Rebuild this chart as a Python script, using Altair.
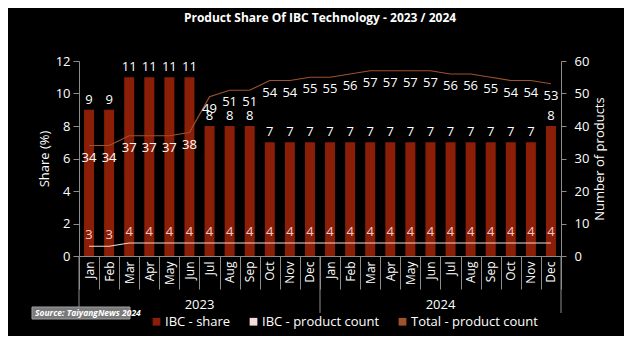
import altair as alt
import pandas as pd

months = ["Jan", "Feb", "Mar", "Apr", "May", "Jun", "Jul", "Aug", "Sep", "Oct", "Nov", "Dec"]
years = ["2023", "2024"]
ibc_share = [9, 9, 11, 11, 11, 11, 8, 8, 8, 7, 7, 7,
             7, 7, 7, 7, 7, 7, 7, 7, 7, 7, 7, 8]
ibc_count = [3, 3, 4, 4, 4, 4, 4, 4, 4, 4, 4, 4,
             4, 4, 4, 4, 4, 4, 4, 4, 4, 4, 4, 4]
total_count = [34, 34, 37, 37, 37, 38, 49, 51, 51, 54, 54, 55,
               55, 56, 57, 57, 57, 57, 56, 56, 55, 54, 54, 53]
series_names = ["IBC - share", "IBC - product count", "Total - product count"]
series_colors = ["#8b1e06", "#f3dcdc", "#a0522d"]
title_text = "Product Share Of IBC Technology - 2023 / 2024"
source_text = "Source: TaiyangNews 2024"

rows = []
for yi, yr in enumerate(years):
    for mi, m in enumerate(months):
        i = yi * 12 + mi
        rows.append(dict(key=f"{yr}-{m}", month=m, year=yr,
                         share=ibc_share[i], ibc=ibc_count[i], total=total_count[i]))
df = pd.DataFrame(rows)
order = list(df["key"])

W, H = 482, 195
FONT = "Open Sans"

xscale = alt.Scale(domain=order, paddingInner=0, paddingOuter=0)
xaxis = alt.Axis(title=None, labelExpr="split(datum.value, '-')[1]",
                 labelAngle=270, tickBand="extent", tickSize=33,
                 labelPadding=-28, labelFontSize=12, labelColor="white",
                 domainColor="#8c8c8c", tickColor="#8c8c8c")


def xenc(band=None):
    if band is None:
        return alt.X("key:N", sort=order, scale=xscale, axis=xaxis)
    return alt.X("key:N", sort=order, scale=xscale, axis=xaxis, bandPosition=band)


yl_scale = alt.Scale(domain=[0, 12])
yl_axis = alt.Axis(title="Share (%)", values=list(range(0, 13, 2)), grid=False,
                   titlePadding=4, tickSize=6, labelPadding=3)
yr_scale = alt.Scale(domain=[0, 60])
yr_axis = alt.Axis(title="Number of products", orient="right", values=list(range(0, 61, 10)),
                   grid=False, titlePadding=5, tickSize=5, labelPadding=8, titleAngle=270,
                   titleBaseline="top")

color_enc = alt.Color("series:N",
                      scale=alt.Scale(domain=series_names, range=series_colors),
                      legend=alt.Legend(title=None, orient="none", direction="horizontal",
                                        legendX=71, legendY=254, symbolType="square",
                                        symbolSize=60, labelFontSize=13, labelColor="white",
                                        labelFont=FONT, columnPadding=16, labelOffset=2,
                                        symbolStrokeWidth=0))

base = alt.Chart(df)

bars = base.transform_calculate(series="'IBC - share'").mark_bar(size=10).encode(
    x=xenc(), y=alt.Y("share:Q", scale=yl_scale, axis=yl_axis), color=color_enc,
)
bar_text = base.mark_text(dy=-10, fontSize=13, color="white", font=FONT).encode(
    x=xenc(), y=alt.Y("share:Q", scale=yl_scale, axis=yl_axis), text="share:Q",
)
left = alt.layer(bars, bar_text)

total_line = base.transform_calculate(series="'Total - product count'").mark_line(strokeWidth=1.2).encode(
    x=xenc(), y=alt.Y("total:Q", scale=yr_scale, axis=yr_axis), color=color_enc,
)
total_text = base.mark_text(dy=12, fontSize=13, color="white", font=FONT).encode(
    x=xenc(), y=alt.Y("total:Q", scale=yr_scale, axis=yr_axis), text="total:Q",
)
ibc_line = base.transform_calculate(series="'IBC - product count'").mark_line(strokeWidth=1.2).encode(
    x=xenc(), y=alt.Y("ibc:Q", scale=yr_scale, axis=yr_axis), color=color_enc,
)
ibc_text = base.mark_text(dy=-11, fontSize=13, color="#f6c9c9", font=FONT).encode(
    x=xenc(), y=alt.Y("ibc:Q", scale=yr_scale, axis=yr_axis), text="ibc:Q",
)
right = alt.layer(total_line, total_text, ibc_line, ibc_text)

year_df = pd.DataFrame({"year": years, "key": ["2023-Jul", "2024-Jul"]})
year_text = alt.Chart(year_df).mark_text(fontSize=13, color="white", font=FONT).encode(
    x=xenc(0), y=alt.value(H + 49), text="year:N",
)
sep_df = pd.DataFrame({"key": ["2023-Jan", "2024-Jan"]})
seps = alt.Chart(sep_df).mark_rule(color="#8c8c8c").encode(
    x=xenc(0), y=alt.value(H), y2=alt.value(H + 57),
)
sep_end = alt.Chart(pd.DataFrame({"key": ["2024-Dec"]})).mark_rule(color="#8c8c8c").encode(
    x=xenc(1), y=alt.value(H), y2=alt.value(H + 57),
)
src_df = pd.DataFrame({"t": [source_text]})
src_box = alt.Chart(src_df).mark_rect(color="#7a7a7a", stroke="#a0a0a0", strokeWidth=1).encode(
    x=alt.value(-47), x2=alt.value(51), y=alt.value(246), y2=alt.value(258),
)
src_text = alt.Chart(src_df).mark_text(align="left", baseline="middle", fontSize=8.5,
                                       fontStyle="italic", fontWeight="bold", color="white",
                                       font=FONT).encode(
    x=alt.value(-44), y=alt.value(252), text="t:N",
)

chart = alt.layer(left, right, year_text, seps, sep_end, src_box, src_text).resolve_scale(
    y="independent"
).properties(
    width=W, height=H,
    title=alt.TitleParams(title_text, fontSize=12, fontWeight="bold", color="white",
                          font=FONT, anchor="middle", frame="group", offset=30),
    autosize=alt.AutoSizeParams(type="none"),
    padding={"left": 71, "top": 53, "right": 63, "bottom": 80},
).configure(
    background="black",
).configure_view(
    stroke=None,
).configure_axis(
    labelColor="white", titleColor="white", labelFont=FONT, titleFont=FONT,
    labelFontSize=13, titleFontSize=13, titleFontWeight="normal",
    domainColor="#8c8c8c", tickColor="#8c8c8c",
)

chart.save("out.html", embed_options={"renderer": "svg", "actions": False})
